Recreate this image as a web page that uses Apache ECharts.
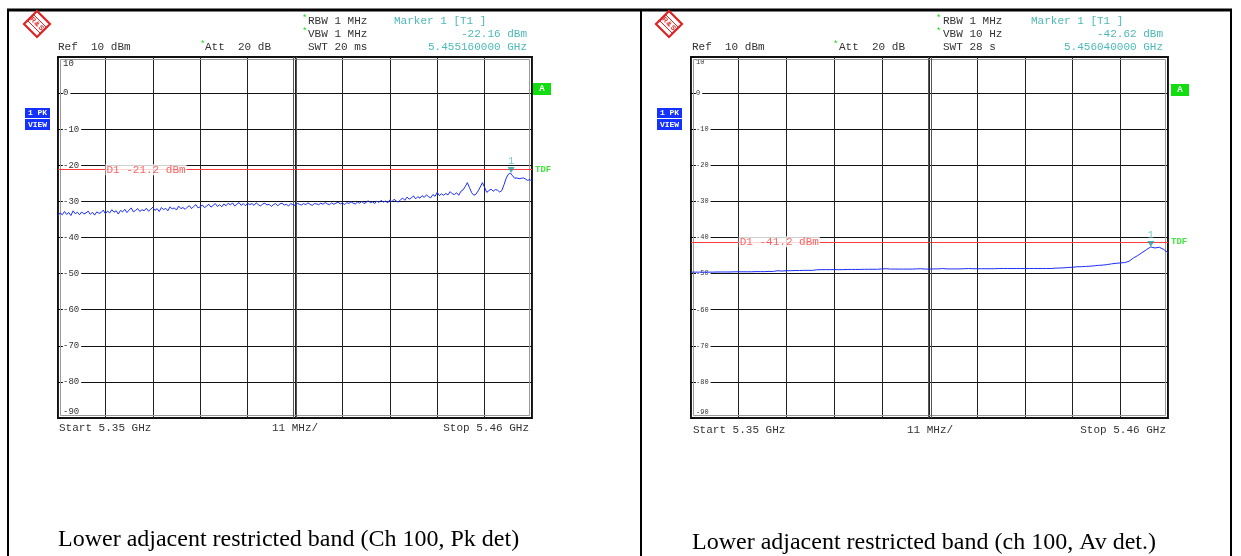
<!DOCTYPE html>
<html><head><meta charset="utf-8">
<script src="https://cdn.jsdelivr.net/npm/echarts@6/dist/echarts.min.js"></script>
<style>html,body{margin:0;padding:0;background:#fff}#c{width:1241px;height:556px}</style>
</head><body><div id="c"></div>
<script>
// ---- data ----
const START_MHZ = 5350;          // start frequency
const STOP_MHZ = 5460;           // stop frequency
const PK_STEP_MHZ = 0.5;         // peak trace sample spacing
const AV_STEP_MHZ = 1;           // average trace sample spacing
const DIV_MHZ = 11;              // MHz per division
const Y_MIN = -90, Y_MAX = 10, Y_DIV = 10;

// Peak detector trace (dBm), 5350..5460 MHz every 0.5 MHz
const pkLevels = [
  -33.9,-33.2,-33.7,-32.8,-33.6,-33.1,-33.9,-32.6,-33.4,-33.0,
  -33.7,-32.9,-33.5,-33.2,-32.7,-33.6,-33.0,-33.8,-32.9,-33.3,
  -33.1,-32.4,-33.4,-32.7,-33.2,-32.3,-33.0,-32.6,-33.5,-32.5,
  -32.9,-32.2,-33.1,-32.4,-31.8,-32.9,-32.5,-32.0,-32.8,-32.3,
  -32.6,-31.9,-32.7,-32.2,-31.6,-32.5,-32.0,-32.8,-31.7,-32.3,
  -31.9,-32.6,-31.5,-32.1,-31.8,-32.4,-31.3,-32.0,-31.7,-32.2,
  -31.6,-31.2,-32.0,-31.4,-30.9,-31.8,-31.5,-31.0,-31.7,-31.3,
  -30.8,-31.6,-31.1,-30.6,-31.4,-30.9,-31.5,-30.7,-31.2,-30.5,
  -31.0,-30.4,-31.3,-30.8,-30.3,-31.1,-30.6,-31.2,-30.5,-30.9,
  -30.6,-31.1,-30.4,-30.9,-31.3,-30.7,-30.5,-31.0,-30.8,-31.4,
  -30.9,-30.6,-31.2,-30.7,-30.5,-31.0,-30.8,-31.3,-30.6,-30.9,
  -31.1,-30.5,-30.8,-31.0,-30.6,-30.9,-30.4,-30.8,-31.1,-30.6,
  -30.7,-30.9,-30.5,-30.8,-30.3,-30.7,-30.9,-30.4,-30.8,-30.5,
  -30.2,-30.7,-30.4,-30.9,-30.3,-30.6,-30.1,-30.5,-30.7,-30.2,
  -30.5,-30.0,-30.6,-30.3,-29.8,-30.4,-30.1,-30.6,-29.9,-30.3,
  -29.7,-30.2,-29.9,-30.4,-29.6,-30.1,-29.4,-29.9,-30.2,-29.5,
  -29.1,-29.7,-28.8,-29.4,-29.0,-28.5,-29.3,-28.7,-29.1,-28.4,
  -28.9,-28.2,-28.7,-29.0,-28.1,-28.6,-27.5,-28.4,-27.9,-28.3,
  -27.8,-28.2,-27.3,-27.9,-28.1,-27.6,-28.3,-27.2,-26.8,-25.9,
  -24.8,-26.2,-27.6,-28.3,-28.0,-27.1,-26.0,-24.8,-26.1,-27.5,
  -27.0,-26.6,-27.2,-26.7,-26.9,-27.4,-27.0,-25.4,-23.6,-22.5,
  -22.16,-22.9,-23.6,-23.5,-23.7,-23.6,-23.5,-23.8,-24.2,-23.9,
  -24.5
];
// Average detector trace (dBm), 5350..5460 MHz every 1 MHz
const avLevels = [
  -49.6,-49.6,-49.6,-49.6,-49.6,-49.6,-49.55,-49.55,-49.55,-49.55,
  -49.5,-49.5,-49.5,-49.5,-49.5,-49.45,-49.45,-49.45,-49.4,-49.4,
  -49.2,-49.3,-49.2,-49.2,-49.15,-49.15,-49.1,-49.1,-49.1,-48.95,
  -48.9,-48.9,-48.9,-48.9,-48.9,-48.9,-48.85,-48.85,-48.85,-48.85,
  -48.8,-48.8,-48.8,-48.8,-48.7,-48.65,-48.75,-48.75,-48.75,-48.75,
  -48.75,-48.75,-48.7,-48.65,-48.75,-48.75,-48.7,-48.7,-48.6,-48.7,
  -48.7,-48.7,-48.7,-48.65,-48.6,-48.65,-48.65,-48.65,-48.65,-48.65,
  -48.65,-48.6,-48.6,-48.6,-48.6,-48.6,-48.6,-48.6,-48.6,-48.6,
  -48.6,-48.6,-48.6,-48.6,-48.5,-48.45,-48.4,-48.3,-48.25,-48.1,
  -48.1,-48.0,-47.95,-47.85,-47.7,-47.65,-47.5,-47.3,-47.15,-47.05,
  -46.95,-46.6,-45.7,-45.0,-44.2,-43.4,-42.62,-42.9,-42.7,-43.3,-44.2
];
const pkMarker = [5455.16, -22.16];
const avMarker = [5456.04, -42.62];
const pkLimit = -21.2;
const avLimit = -41.2;

const pkHeader = ['Ref  10 dBm','Att  20 dB','RBW 1 MHz','VBW 1 MHz','SWT 20 ms','Marker 1 [T1 ]','-22.16 dBm','5.455160000 GHz'];
const avHeader = ['Ref  10 dBm','Att  20 dB','RBW 1 MHz','VBW 10 Hz','SWT 28 s','Marker 1 [T1 ]','-42.62 dBm','5.456040000 GHz'];
const footer = ['Start 5.35 GHz','11 MHz/','Stop 5.46 GHz'];
const captions = ['Lower adjacent restricted band (Ch 100, Pk det)','Lower adjacent restricted band (ch 100, Av det.)'];

// ---- chart ----
const MONO = '"Liberation Mono","DejaVu Sans Mono",monospace';
const SERIF = '"Liberation Serif","DejaVu Serif",serif';
const TEAL = '#4cb8b8';
const RED = '#ff3b3b';
const GREEN = '#11dd11';
const BLUE = '#1b2cff';

const chart = echarts.init(document.getElementById('c'));
const pairs = (levels, step) => levels.map((v, i) => [i * step, v]);

function xAxisCfg(g) {
  return { type:'value', gridIndex:g, min:0, max:STOP_MHZ-START_MHZ, interval:DIV_MHZ,
    axisLabel:{show:false}, axisTick:{show:false}, axisLine:{show:false},
    splitLine:{show:true, lineStyle:{color:'#222', width:1}} };
}
function yAxisCfg(g, fs) {
  return { type:'value', gridIndex:g, min:Y_MIN, max:Y_MAX, interval:Y_DIV,
    axisLine:{show:false},
    axisTick:{show:true, inside:true, length:3, lineStyle:{color:'#000'}},
    splitLine:{show:true, lineStyle:{color:'#111', width:1}},
    axisLabel:{ inside:true, margin:5, fontFamily:MONO, fontSize:fs, color:'#333',
      verticalAlignMinLabel:'bottom', verticalAlignMaxLabel:'top',
      formatter: v => (v === Y_MAX || v === Y_MIN) ? '{e|' + v + '}' : '{m|' + v + '}',
      rich:{ e:{fontFamily:MONO, fontSize:fs, color:'#333', padding:[2,0,2,0]},
             m:{fontFamily:MONO, fontSize:fs, color:'#333', backgroundColor:'#fff', padding:[0,2,0,0]} } } };
}
function seriesFor(g, levels, step, marker, limit) {
  return [
    { type:'line', xAxisIndex:g, yAxisIndex:g, data:pairs(levels, step), showSymbol:false, symbol:'none',
      lineStyle:{color:BLUE, width:1}, z:5, animation:false,
      markLine:{ silent:true, symbol:'none', animation:false, label:{show:false},
        data:[
          {yAxis:limit, lineStyle:{color:RED, width:1.2, type:'solid'}},
          {xAxis:54.7, lineStyle:{color:'#555', width:1, type:'solid'}},
          {xAxis:55.3, lineStyle:{color:'#555', width:1, type:'solid'}}
        ] } },
    { type:'scatter', xAxisIndex:g, yAxisIndex:g, data:[[marker[0]-START_MHZ, marker[1]]],
      symbol:'triangle', symbolRotate:180, symbolSize:[7,6], symbolOffset:[0,-3],
      itemStyle:{color:'#22a0a0'}, z:8, animation:false,
      label:{show:true, formatter:'1', position:'top', distance:1, color:TEAL, fontFamily:MONO, fontSize:10} },
    { type:'scatter', xAxisIndex:g, yAxisIndex:g, data:[[DIV_MHZ, limit]], symbolSize:0, z:9, animation:false,
      label:{show:true, position:'right', distance:0, formatter:'D1 ' + limit.toFixed(1) + ' dBm',
        color:RED, fontFamily:MONO, fontSize:11, backgroundColor:'#fff', padding:[0,1,0,1]} },
    { type:'scatter', xAxisIndex:g, yAxisIndex:g, data:[[STOP_MHZ-START_MHZ, limit]], symbolSize:0, z:9, animation:false,
      label:{show:true, position:'right', distance:3, formatter:'TDF', color:GREEN, fontFamily:MONO, fontSize:9, fontWeight:'bold'} }
  ];
}

function txt(x, y, s, color, align, fs) {
  return { type:'text', silent:true, z:20,
    style:{ x:x, y:y, text:s, fill:color, font:(fs||11) + 'px ' + MONO,
      textAlign:align||'left', textVerticalAlign:'middle', align:align||'left', verticalAlign:'middle' } };
}
function header(h, xRef, xStarAtt, xAtt, xStar, xRbw, xMarker, xRight) {
  return [
    txt(xRef, 47, h[0], '#333', 'left'),
    txt(xStarAtt, 45, '*', GREEN, 'left', 9),
    txt(xAtt, 47, h[1], '#333', 'left'),
    txt(xStar, 19, '*', GREEN, 'left', 9),
    txt(xRbw, 21, h[2], '#333', 'left'),
    txt(xStar, 32, '*', GREEN, 'left', 9),
    txt(xRbw, 34, h[3], '#333', 'left'),
    txt(xRbw, 47, h[4], '#333', 'left'),
    txt(xMarker, 21, h[5], TEAL, 'left'),
    txt(xRight, 34, h[6], TEAL, 'right'),
    txt(xRight, 47, h[7], TEAL, 'right')
  ];
}
function letter(x, y, s) {
  return { type:'text', silent:true, z:21, rotation:-Math.PI/4, x:x, y:y,
    style:{x:0, y:0, text:s, fill:'#e02424', font:'bold 7px "Liberation Sans",sans-serif',
      align:'center', verticalAlign:'middle', textAlign:'center', textVerticalAlign:'middle'} };
}
function logo(cx, cy) {
  const r = 13;
  return [
    { type:'polygon', silent:true, z:20, shape:{points:[[cx,cy-r],[cx+r,cy],[cx,cy+r],[cx-r,cy]]},
      style:{fill:'#fff', stroke:'#e02424', lineWidth:2.2} },
    { type:'polygon', silent:true, z:20, shape:{points:[[cx-3,cy-9],[cx+9,cy+3],[cx+3,cy+9],[cx-9,cy-3]]},
      style:{fill:'none', stroke:'#e02424', lineWidth:1} },
    letter(cx-4, cy-4, 'R'), letter(cx, cy, '&'), letter(cx+4, cy+4, 'S')
  ];
}
function viewBox(x) {
  return [
    { type:'rect', silent:true, z:20, shape:{x:x, y:108, width:25, height:10}, style:{fill:'#1432ff'} },
    { type:'rect', silent:true, z:20, shape:{x:x, y:119, width:25, height:11}, style:{fill:'#1432ff'} },
    { type:'text', silent:true, z:21, style:{x:x+12.5, y:113, text:'1 PK', fill:'#fff', font:'bold 8px ' + MONO, align:'center', verticalAlign:'middle', textAlign:'center', textVerticalAlign:'middle'} },
    { type:'text', silent:true, z:21, style:{x:x+12.5, y:124.5, text:'VIEW', fill:'#fff', font:'bold 8px ' + MONO, align:'center', verticalAlign:'middle', textAlign:'center', textVerticalAlign:'middle'} }
  ];
}
function aBox(x, y) {
  return [
    { type:'rect', silent:true, z:20, shape:{x:x, y:y, width:18, height:12}, style:{fill:'#11dd11'} },
    { type:'text', silent:true, z:21, style:{x:x+9, y:y+6, text:'A', fill:'#fff', font:'bold 9px ' + MONO, align:'center', verticalAlign:'middle', textAlign:'center', textVerticalAlign:'middle'} }
  ];
}
function frameLine(x1, y1, x2, y2, w) {
  return { type:'line', silent:true, z:20, shape:{x1:x1, y1:y1, x2:x2, y2:y2}, style:{stroke:'#000', lineWidth:w} };
}
function innerFrame(x, y, w, h) {
  return { type:'rect', silent:true, z:1, shape:{x:x, y:y, width:w, height:h}, style:{fill:'none', stroke:'#999', lineWidth:1} };
}

const graphics = [].concat(
  [frameLine(7, 10, 1232, 10, 3), frameLine(8, 9, 8, 556, 2), frameLine(641, 9, 641, 556, 2), frameLine(1231, 9, 1231, 556, 2)],
  [innerFrame(60.5, 59.5, 469, 356), innerFrame(693.5, 59.5, 472, 356)],
  logo(37, 24), logo(669, 24),
  header(pkHeader, 58, 200, 205, 302, 308, 394, 527),
  header(avHeader, 692, 833, 839, 936, 943, 1031, 1163),
  viewBox(25), viewBox(657),
  aBox(533, 83), aBox(1171, 84),
  [txt(59, 428, footer[0], '#333', 'left'), txt(295, 428, footer[1], '#333', 'center'), txt(529, 428, footer[2], '#333', 'right'),
   txt(693, 430, footer[0], '#333', 'left'), txt(930, 430, footer[1], '#333', 'center'), txt(1166, 430, footer[2], '#333', 'right')],
  [{ type:'text', silent:true, z:20, style:{x:58, y:540, text:captions[0], fill:'#000', font:'24px ' + SERIF, align:'left', verticalAlign:'middle', textAlign:'left', textVerticalAlign:'middle'} },
   { type:'text', silent:true, z:20, style:{x:692, y:543, text:captions[1], fill:'#000', font:'24px ' + SERIF, align:'left', verticalAlign:'middle', textAlign:'left', textVerticalAlign:'middle'} }]
);

chart.setOption({
  animation:false,
  backgroundColor:'#fff',
  grid:[
    {left:58, top:57, width:474, height:361, show:true, borderColor:'#111', borderWidth:2, containLabel:false},
    {left:691, top:57, width:477, height:361, show:true, borderColor:'#111', borderWidth:2, containLabel:false}
  ],
  xAxis:[xAxisCfg(0), xAxisCfg(1)],
  yAxis:[yAxisCfg(0, 9), yAxisCfg(1, 7)],
  series:[].concat(seriesFor(0, pkLevels, PK_STEP_MHZ, pkMarker, pkLimit), seriesFor(1, avLevels, AV_STEP_MHZ, avMarker, avLimit)),
  graphic:graphics
});
</script></body></html>
